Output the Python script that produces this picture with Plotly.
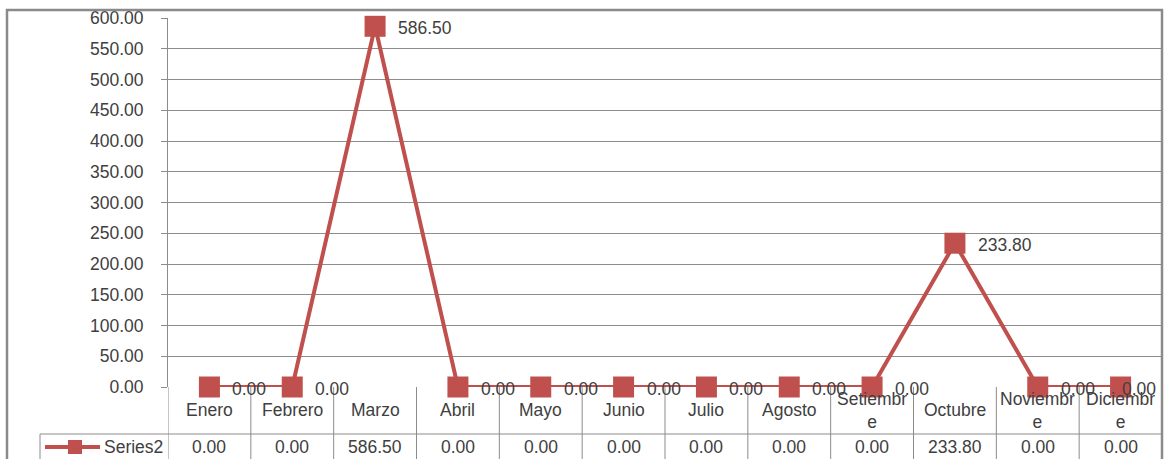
import plotly.graph_objects as go

months = ["Enero", "Febrero", "Marzo", "Abril", "Mayo", "Junio", "Julio",
          "Agosto", "Setiembre", "Octubre", "Noviembre", "Diciembre"]
header_labels = ["Enero", "Febrero", "Marzo", "Abril", "Mayo", "Junio", "Julio",
                 "Agosto", "Setiembr<br>e", "Octubre", "Noviembr<br>e", "Diciembr<br>e"]
values = [0.00, 0.00, 586.50, 0.00, 0.00, 0.00, 0.00, 0.00, 0.00, 233.80, 0.00, 0.00]
series_name = "Series2"
y_ticks = [0, 50, 100, 150, 200, 250, 300, 350, 400, 450, 500, 550, 600]

RED = "#C0504D"
GRID = "#8C8C8C"
TXT = "#404040"
FONT = "Liberation Sans, Arial, sans-serif"
FS = 17.5

W, H = 1170, 459
ML, MR, MT, MB = 168, 8, 18, 72
PW, PH = W - ML - MR, H - MT - MB

def px_x(px):
    return (px - ML) / PW

def px_y(py):
    return (H - MB - py) / PH

xs = list(range(len(months)))

fig = go.Figure()
fig.add_trace(go.Scatter(
    x=xs, y=values, mode="lines+markers",
    line=dict(color=RED, width=4),
    marker=dict(symbol="square", size=21, color=RED),
    cliponaxis=False, showlegend=False,
))

shapes = []
annotations = []

# data labels (last one kept inside the plot area, as Excel does)
for i, v in enumerate(values):
    last = i == len(values) - 1
    annotations.append(dict(xref="x", yref="y", x=i, y=v, text=f"{v:.2f}",
                            showarrow=False,
                            xanchor="right" if last else "left",
                            yanchor="middle",
                            xshift=37 if last else 21, yshift=-2,
                            font=dict(family=FONT, size=FS, color=TXT)))

# outer border
shapes.append(dict(type="rect", xref="paper", yref="paper",
                   x0=px_x(7), x1=px_x(1162), y0=px_y(470), y1=px_y(10),
                   line=dict(color="#8A8A8A", width=2.5), layer="above"))

# table vertical lines
for k in range(len(months) + 1):
    shapes.append(dict(type="line", xref="x", yref="paper",
                       x0=k - 0.5, x1=k - 0.5, y0=px_y(387), y1=px_y(470),
                       line=dict(color=GRID, width=1)))
# horizontal line between header and series row
shapes.append(dict(type="line", xref="paper", yref="paper",
                   x0=px_x(40), x1=1, y0=px_y(434), y1=px_y(434),
                   line=dict(color=GRID, width=1)))
shapes.append(dict(type="line", xref="paper", yref="paper",
                   x0=px_x(40), x1=px_x(40), y0=px_y(434), y1=px_y(470),
                   line=dict(color=GRID, width=1)))
# legend key line
shapes.append(dict(type="line", xref="paper", yref="paper",
                   x0=px_x(45), x1=px_x(100), y0=px_y(447), y1=px_y(447),
                   line=dict(color=RED, width=4)))
shapes.append(dict(type="rect", xref="paper", yref="paper",
                   x0=px_x(68), x1=px_x(82), y0=px_y(454), y1=px_y(440),
                   fillcolor=RED, line=dict(width=0)))

for i, lab in enumerate(header_labels):
    annotations.append(dict(xref="x", yref="paper", x=i, y=px_y(410),
                            text=lab, showarrow=False,
                            font=dict(family=FONT, size=FS, color=TXT),
                            align="center", yanchor="middle"))
    annotations.append(dict(xref="x", yref="paper", x=i, y=px_y(447),
                            text=f"{values[i]:.2f}", showarrow=False,
                            font=dict(family=FONT, size=FS, color=TXT),
                            yanchor="middle"))
annotations.append(dict(xref="paper", yref="paper", x=px_x(165), y=px_y(447),
                        text=series_name, showarrow=False, xanchor="right",
                        font=dict(family=FONT, size=FS, color=TXT),
                        yanchor="middle"))

fig.update_layout(
    width=W, height=H,
    margin=dict(l=ML, r=MR, t=MT, b=MB),
    paper_bgcolor="white", plot_bgcolor="white",
    shapes=shapes, annotations=annotations,
    xaxis=dict(range=[-0.5, len(months) - 0.5], showgrid=False, zeroline=False,
               showticklabels=False, showline=False, fixedrange=True),
    yaxis=dict(range=[0, 600], tickvals=y_ticks, tickformat=".2f",
               showgrid=True, gridcolor=GRID, gridwidth=1,
               zeroline=False, showline=True, linecolor=GRID, linewidth=1,
               ticks="outside", ticklen=6, tickcolor=GRID,
               ticklabelstandoff=14,
               tickfont=dict(family=FONT, size=FS, color=TXT)),
)

fig.write_html("out.html")
